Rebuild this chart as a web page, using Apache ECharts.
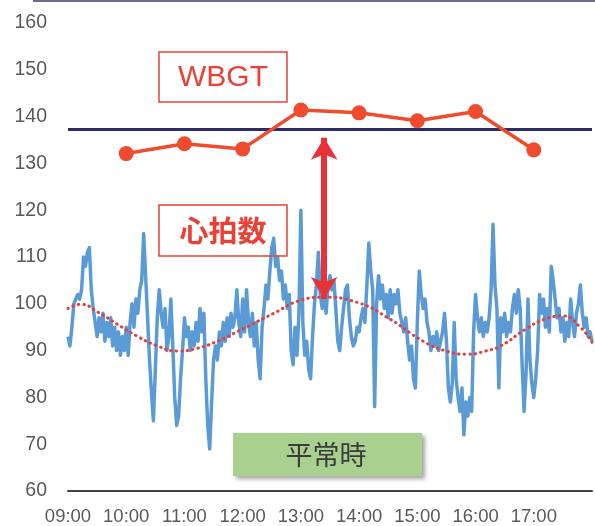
<!DOCTYPE html>
<html><head><meta charset="utf-8">
<script src="https://cdn.jsdelivr.net/npm/echarts@6/dist/echarts.min.js"></script>
<style>html,body{margin:0;padding:0;background:#fff}#c{width:595px;height:526px}</style>
</head><body><div id="c"></div>
<script>
// x axis: minutes after 09:00
const xTickLabels = ['09:00','10:00','11:00','12:00','13:00','14:00','15:00','16:00','17:00',''];
const hrStepMin = 2;
const heartRate = [
  93, 91, 95,100,101,102,101,103,110,108,111,112,103, 99, 96,
  93, 97, 94, 98, 92, 96, 93, 97, 91, 95, 90, 94, 89, 93, 90,
  95, 89, 96,100, 95,101, 98,103,105,115,106, 97, 88, 81, 75,
  86, 97,103, 98, 95, 99, 90, 93,101, 91, 80, 74, 76, 84, 90,
  97, 93, 95, 90, 94, 91, 96, 92, 99, 94, 98, 84, 74, 69, 79,
  88, 91, 88, 94, 91, 96, 92, 97, 93, 98, 95, 97,103, 96, 93,
 101, 94,103, 96, 93, 98, 91, 96, 88, 84, 95, 99,104,101,107,
 112,114,108,110,105,107,101,104, 99,102, 90, 87, 95, 89, 98,
 120, 96, 89, 92, 86, 84, 93,100,104,111,102, 99,101, 98,104,
 106,103,105, 99, 92, 90, 95, 99,103,104, 97, 93, 91, 92, 95,
  94, 97, 99, 96,104,113,107,103, 78,100,106,101,104, 99,102,
  97,103, 98,102,100,103, 98, 96, 94, 97, 92, 88, 91, 84, 82,
  96,107,102, 99,101, 96, 94, 90, 93, 91, 94, 90, 92, 94, 98,
  92, 82, 79, 83, 96, 84, 80, 77, 82, 72, 79, 76, 80, 77, 94,
 102, 97, 94, 97, 93, 96, 94, 97,103,117,104, 99, 82, 97, 94,
  98, 93, 96, 94, 99,102, 98,103, 99, 87, 77, 85,101, 88, 83,
  80, 84, 90,102, 98,101, 95, 99, 94,108,105,101, 97, 99, 94,
  97, 92, 96, 93,101, 96, 93, 98,100,104, 98, 95, 97, 93, 94,
  92
];
const trendMin = [0, 13, 31, 51, 72, 92, 113, 133, 154, 175, 195, 216, 236, 262, 298, 332, 366, 390, 412, 430, 446, 471, 491, 510, 528, 540];
const trendVal = [99, 99.9, 98.2, 95.6, 93, 91, 89.9, 90.5, 92, 94.1, 96.2, 98.4, 100.5, 101.4, 100.3, 96.7, 92, 89.9, 89.2, 89.9, 91, 94.5, 96.7, 97.4, 95, 91.8];
const wbgtMin = [60, 120, 180, 240, 300, 360, 420, 480];
const wbgtVal = [132.1, 134.2, 133.1, 141.4, 140.8, 139.1, 141.1, 132.9];
const thresholdVal = 137.2;
const arrowMin = 264;
const arrowFrom = 135.5;
const arrowTo = 101;

const chart = echarts.init(document.getElementById('c'), null, {renderer: 'canvas'});
const red = '#ea4136';
chart.setOption({
  animation: false,
  backgroundColor: '#fff',
  grid: {left: 68, right: 0, top: 23, bottom: 34},
  xAxis: {
    type: 'value', min: 0, max: 540, interval: 60,
    axisLine: {lineStyle: {color: '#444', width: 2}},
    axisTick: {show: false}, splitLine: {show: false},
    axisLabel: {color: '#595959', fontSize: 18.5, margin: 16, fontFamily: 'Liberation Sans',
      formatter: v => xTickLabels[Math.round(v / 60)] || ''}
  },
  yAxis: {
    type: 'value', min: 60, max: 160, interval: 10,
    axisLine: {show: false}, axisTick: {show: false}, splitLine: {show: false},
    axisLabel: {color: '#595959', fontSize: 19.5, margin: 21, fontFamily: 'Liberation Sans'}
  },
  series: [
    {
      type: 'line', name: 'hr', z: 2,
      data: heartRate.map((v, i) => [i * hrStepMin, v]),
      showSymbol: false, symbol: 'none',
      lineStyle: {color: '#5b9bd5', width: 3.5, join: 'round'},
      markLine: {
        silent: true, symbol: ['none', 'none'], label: {show: false},
        lineStyle: {color: '#2e2b6b', width: 3, type: 'solid'},
        data: [{yAxis: thresholdVal}]
      }
    },
    {
      type: 'line', name: 'trend', z: 3, smooth: true,
      data: trendMin.map((m, i) => [m, trendVal[i]]),
      showSymbol: false, symbol: 'none',
      lineStyle: {color: '#e0413d', width: 3, type: [0.5, 5], cap: 'round'}
    },
    {
      type: 'line', name: 'wbgt', z: 5,
      data: wbgtMin.map((m, i) => [m, wbgtVal[i]]),
      symbol: 'circle', symbolSize: 15,
      itemStyle: {color: '#ef4b2f'},
      lineStyle: {color: '#ef4b2f', width: 3.5}
    },
    {
      type: 'line', name: 'arrow', z: 6, data: [],
      markLine: {
        silent: true, symbol: ['arrow', 'arrow'], symbolSize: [20, 22],
        label: {show: false},
        lineStyle: {color: '#e8323a', width: 6, type: 'solid'},
        data: [[{coord: [arrowMin, arrowFrom]}, {coord: [arrowMin, arrowTo]}]]
      }
    }
  ],
  graphic: [
    {type: 'line', shape: {x1: 33, y1: 1, x2: 595, y2: 1}, style: {stroke: '#6b6b8e', lineWidth: 2}, z: 10},
    {type: 'rect', shape: {x: 159, y: 52, width: 128, height: 50}, style: {fill: null, stroke: red, lineWidth: 1.5}, z: 10},
    {type: 'text', x: 223, y: 78, style: {text: 'WBGT', fill: red, font: '30px "Liberation Sans", Arial, sans-serif', textAlign: 'center', textVerticalAlign: 'middle'}, z: 10},
    {type: 'rect', shape: {x: 159, y: 205, width: 128, height: 51}, style: {fill: null, stroke: red, lineWidth: 1.5}, z: 10},
    {type: 'text', x: 223, y: 231, style: {text: '心拍数', fill: red, font: 'bold 29px "Noto Sans CJK JP", sans-serif', textAlign: 'center', textVerticalAlign: 'middle'}, z: 10},
    {type: 'rect', shape: {x: 233, y: 433, width: 189, height: 43}, style: {fill: '#a9d08e', shadowBlur: 4, shadowOffsetX: 3, shadowOffsetY: 3, shadowColor: 'rgba(0,0,0,0.35)'}, z: 10},
    {type: 'text', x: 326, y: 455, style: {text: '平常時', fill: '#3b3b3b', font: '27px "Noto Sans CJK JP", sans-serif', textAlign: 'center', textVerticalAlign: 'middle'}, z: 11}
  ]
});
</script></body></html>
